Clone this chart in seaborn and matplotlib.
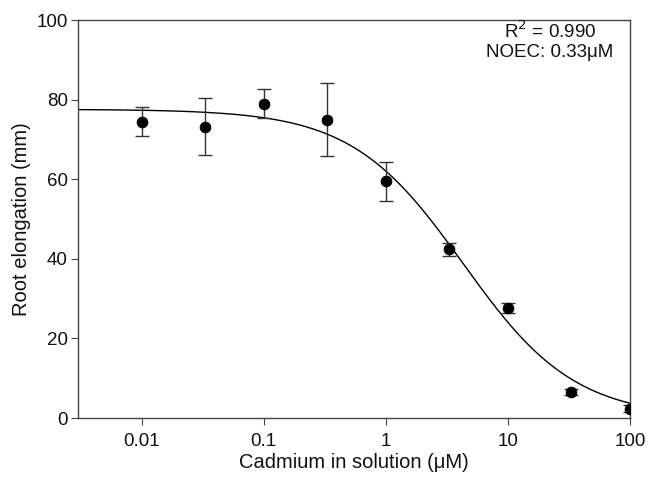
import numpy as np
import pandas as pd
import matplotlib
matplotlib.use("Agg")
import matplotlib.pyplot as plt
import seaborn as sns

# measured root elongation vs cadmium concentration
cd_conc = [0.01, 0.033, 0.1, 0.33, 1.0, 3.3, 10.0, 33.0, 100.0]
elong_mean = [74.5, 73.2, 79.0, 75.0, 59.5, 42.4, 27.6, 6.6, 2.4]
elong_err = [3.6, 7.2, 3.6, 9.2, 4.9, 1.7, 1.2, 0.8, 0.9]

# fitted log-logistic curve parameters
fit_top = 77.6
fit_ec50 = 4.3
fit_slope = 0.95

df = pd.DataFrame({"conc": cd_conc, "elong": elong_mean, "err": elong_err})

xs = np.logspace(np.log10(0.003), 2, 300)
curve = pd.DataFrame({"conc": xs, "elong": fit_top / (1 + (xs / fit_ec50) ** fit_slope)})

sns.set_style("ticks")
plt.rcParams["font.family"] = ["Liberation Sans", "DejaVu Sans"]

fig = plt.figure(figsize=(6.53, 4.8), dpi=100)
ax = fig.add_axes([0.119, 0.129, 0.846, 0.829])

sns.lineplot(data=curve, x="conc", y="elong", color="black", linewidth=1.0, ax=ax)
ax.errorbar(df["conc"], df["elong"], yerr=df["err"], fmt="none", ecolor="#333333",
            elinewidth=1.0, capsize=5, capthick=1.0, zorder=3)
sns.scatterplot(data=df, x="conc", y="elong", color="black", s=60, edgecolor="black",
                zorder=4, ax=ax)

ax.set_xscale("log")
ax.set_xlim(0.003, 100)
ax.set_ylim(0, 100)
ax.set_xticks([0.01, 0.1, 1, 10, 100])
ax.set_xticklabels(["0.01", "0.1", "1", "10", "100"])
ax.set_yticks([0, 20, 40, 60, 80, 100])
ax.minorticks_off()
ax.tick_params(labelsize=13.5, length=5, color="#444444", labelcolor="#111111")
ax.tick_params(axis="y", pad=2)
ax.tick_params(axis="x", pad=6)
for s in ax.spines.values():
    s.set_color("#444444")
    s.set_linewidth(1.0)

ax.set_xlabel("Cadmium in solution (\u03bcM)", fontsize=14.5, labelpad=2, color="#111111")
ax.set_ylabel("Root elongation (mm)", fontsize=14.5, labelpad=4, color="#111111")

# fit statistics, two lines placed separately
ax.text(0.855, 0.955, "R$^2$ = 0.990", transform=ax.transAxes,
        ha="center", va="baseline", fontsize=13.5, color="#111111")
ax.text(0.855, 0.908, "NOEC: 0.33\u03bcM", transform=ax.transAxes,
        ha="center", va="baseline", fontsize=13.5, color="#111111")

fig.savefig("out.png", dpi=100)
